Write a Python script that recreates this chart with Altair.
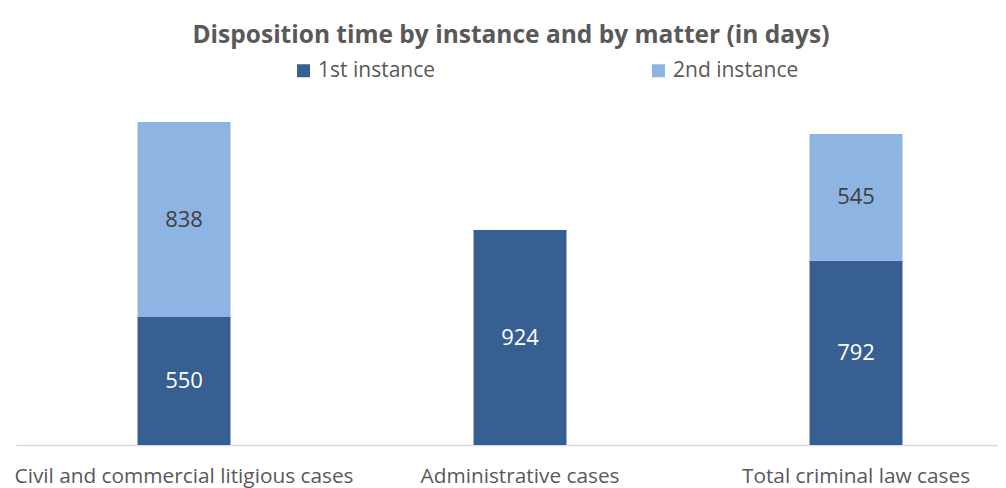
import altair as alt
import pandas as pd

categories = ["Civil and commercial litigious cases", "Civil and commercial litigious cases",
              "Administrative cases",
              "Total criminal law cases", "Total criminal law cases"]
instances = ["1st instance", "2nd instance", "1st instance", "1st instance", "2nd instance"]
values = [550, 838, 924, 792, 545]
cat_order = ["Civil and commercial litigious cases", "Administrative cases", "Total criminal law cases"]
series = ["1st instance", "2nd instance"]
colors = ["#375F91", "#8DB4E2"]
text_colors = ["#FFFFFF", "#404040"]

df = pd.DataFrame({"category": categories, "instance": instances, "value": values})

FONT = "Open Sans"

x = alt.X("category:N", sort=cat_order, title=None,
          scale=alt.Scale(paddingInner=0.7232, paddingOuter=0.3229, align=0.56),
          axis=alt.Axis(labelAngle=0, labelFontSize=20.8, labelColor="#595959", labelFont=FONT,
                        labelPadding=21, ticks=False, domainColor="#D9D9D9", domainWidth=1.5,
                        labelLimit=0))

base = alt.Chart(df).transform_stack(
    stack="value", groupby=["category"], as_=["y0", "y1"],
    sort=[alt.SortField("instance", order="ascending")]
).transform_calculate(mid="(datum.y0 + datum.y1) / 2")

yscale = alt.Scale(domain=[0, 1483], nice=False, zero=True)

bars = base.mark_bar().encode(
    x=x,
    y=alt.Y("y0:Q", scale=yscale, axis=None),
    y2="y1:Q",
    color=alt.Color("instance:N", scale=alt.Scale(domain=series, range=colors),
                    legend=alt.Legend(title=None, orient="none", direction="horizontal",
                                      legendX=277, legendY=-40, symbolType="square",
                                      symbolSize=169, symbolStrokeWidth=0, labelFontSize=21,
                                      labelColor="#595959", labelFont=FONT, columnPadding=212,
                                      labelOffset=4)),
)

labels = base.mark_text(fontSize=22, font=FONT).encode(
    x=x,
    y=alt.Y("mid:Q", scale=yscale, axis=None),
    text=alt.Text("value:Q"),
    color=alt.Color("instance:N", scale=alt.Scale(domain=series, range=text_colors), legend=None),
)

chart = alt.layer(bars, labels).resolve_scale(color="independent").properties(
    width=982, height=345,
    padding={"left": 8, "top": 92, "right": 0, "bottom": 45},
    autosize=alt.AutoSizeParams(type="none"),
    title=alt.Title("Disposition time by instance and by matter (in days)", font=FONT,
                    fontSize=24.5, fontWeight="bold", color="#595959", anchor="middle",
                    offset=12, dx=4),
).configure_view(stroke=None)

chart.save("out.html", embed_options={"renderer": "svg", "actions": False})
